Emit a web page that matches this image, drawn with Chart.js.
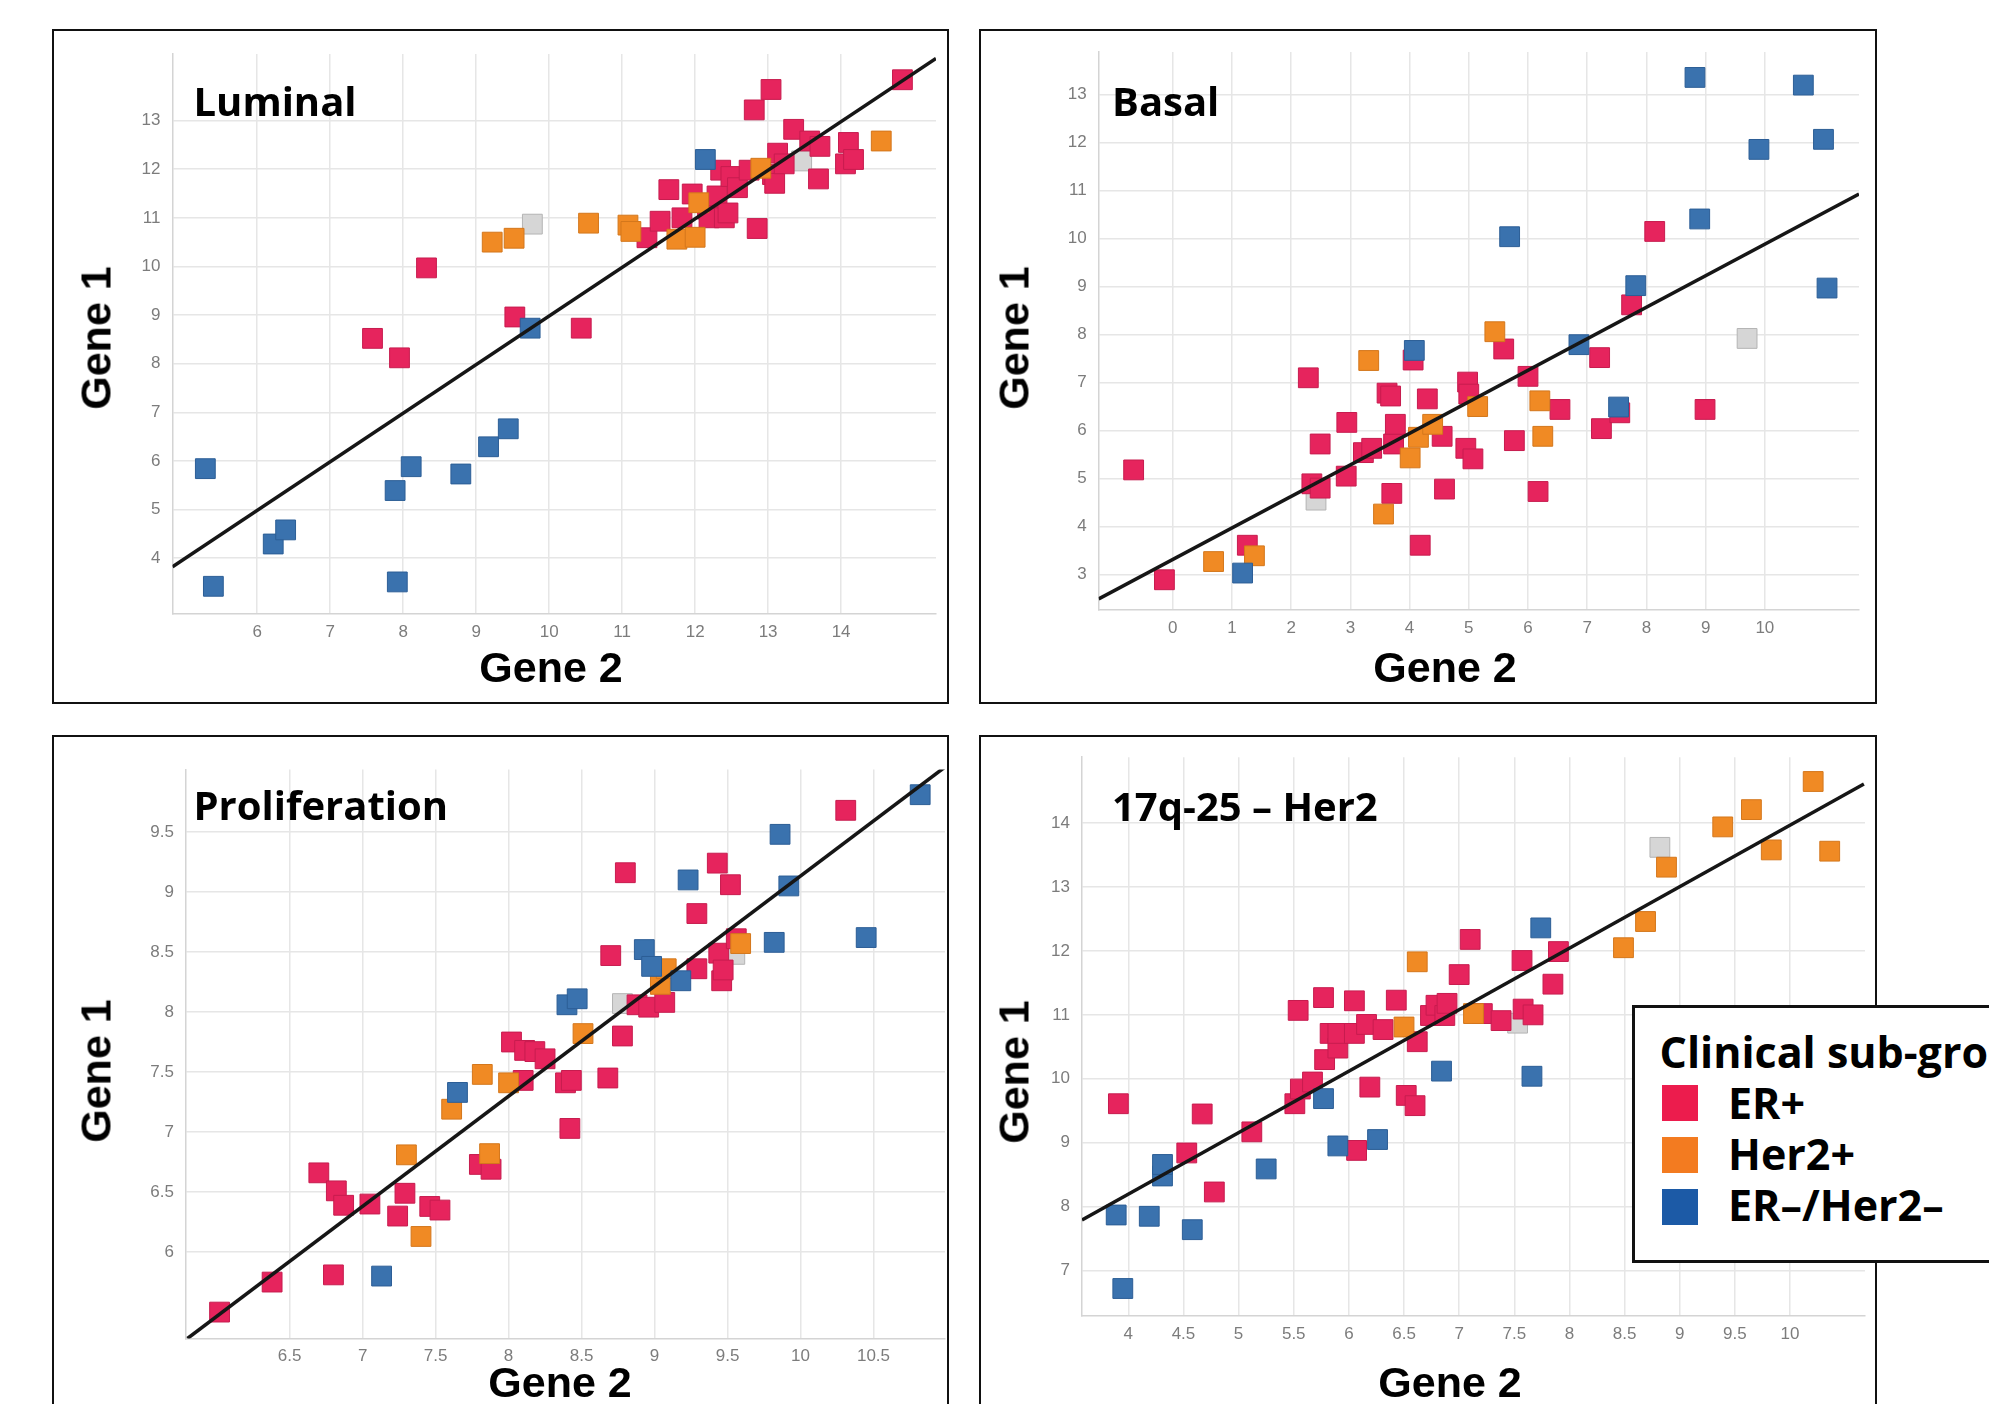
<!DOCTYPE html>
<html>
<head>
<meta charset="utf-8">
<title>Gene 1 vs Gene 2 – four signatures</title>
<script src="https://cdn.jsdelivr.net/npm/chart.js@4.4.1/dist/chart.umd.min.js"></script>
<style>
  html, body { margin: 0; padding: 0; background: #fff; }
  body { position: relative; width: 1989px; height: 1404px; overflow: hidden; }
  .frame { position: absolute; border: 2px solid #111; box-sizing: border-box; }
  canvas { position: absolute; z-index: 1; }
  .txt { position: absolute; white-space: nowrap; line-height: 1; color: #000; z-index: 2; }
  .panel-title { font-family: "Open Sans", "DejaVu Sans", sans-serif; font-weight: 700; font-size: 40px; }
  .axis-title { font-family: "Liberation Sans", Arial, sans-serif; font-weight: 700; font-size: 43px; }
  .legend-box { position: absolute; left: 1632px; top: 1005px; width: 420px; height: 258px;
                border: 3px solid #111; box-sizing: border-box; background: #fff; z-index: 3; }
  .legend-txt { font-family: "Open Sans", "DejaVu Sans", sans-serif; font-weight: 700; font-size: 43px; z-index: 4; }
  .swatch { position: absolute; width: 36px; height: 36px; z-index: 4; }
</style>
</head>
<body>
<script>
// =============================================
// Data (Gene 2 on x, Gene 1 on y)
// =============================================

// --- Luminal ---
const lumXRange = [4.84, 15.3];
const lumYRange = [2.85, 14.37];
const lumXTicks = [6, 7, 8, 9, 10, 11, 12, 13, 14];
const lumYTicks = [4, 5, 6, 7, 8, 9, 10, 11, 12, 13];
const lumEr = [[7.58, 8.52], [7.95, 8.12], [8.32, 9.97], [9.53, 8.96], [10.44, 8.73], [11.34, 10.59],
  [11.52, 10.93], [11.64, 11.58], [11.82, 11.0], [11.96, 11.49], [12.17, 11.18], [12.19, 11.0],
  [12.30, 11.45], [12.35, 11.98], [12.40, 11.0], [12.45, 11.1], [12.49, 11.85], [12.58, 11.62],
  [12.74, 11.98], [12.81, 13.22], [12.85, 10.78], [13.04, 13.64], [13.06, 11.89], [13.09, 11.71],
  [13.13, 12.33], [13.22, 12.11], [13.35, 12.82], [13.57, 12.58], [13.69, 11.80], [13.71, 12.47],
  [14.06, 12.11], [14.10, 12.55], [14.17, 12.2], [14.84, 13.84]];
const lumHer = [[9.22, 10.50], [9.52, 10.58], [10.54, 10.89], [11.08, 10.85], [11.12, 10.72],
  [11.75, 10.56], [12.0, 10.6], [12.05, 11.31], [12.90, 12.02], [14.55, 12.58]];
const lumTn = [[5.29, 5.84], [5.40, 3.42], [6.22, 4.29], [6.39, 4.58], [7.89, 5.39], [7.92, 3.51],
  [8.11, 5.88], [8.79, 5.73], [9.17, 6.29], [9.44, 6.66], [9.74, 8.73], [12.14, 12.20]];
const lumNa = [[9.77, 10.87], [13.46, 12.17]];
const lumFitX = [4.84, 15.3];
const lumFitY = [3.82, 14.28];

// --- Basal ---
const basXRange = [-1.25, 11.59];
const basYRange = [2.26, 13.89];
const basXTicks = [0, 1, 2, 3, 4, 5, 6, 7, 8, 9, 10];
const basYTicks = [3, 4, 5, 6, 7, 8, 9, 10, 11, 12, 13];
const basEr = [[-0.66, 5.18], [-0.14, 2.89], [1.26, 3.61], [2.29, 7.10], [2.35, 4.89], [2.49, 4.80],
  [2.49, 5.72], [2.93, 5.05], [2.94, 6.17], [3.22, 5.54], [3.36, 5.63], [3.62, 6.78], [3.68, 6.72],
  [3.70, 4.69], [3.73, 5.72], [3.76, 6.13], [4.06, 7.47], [4.18, 3.61], [4.30, 6.66], [4.55, 5.88],
  [4.59, 4.78], [4.95, 5.63], [4.98, 7.01], [5.0, 6.76], [5.07, 5.41], [5.59, 7.70], [5.77, 5.79],
  [6.0, 7.13], [6.17, 4.73], [6.54, 6.44], [7.21, 7.52], [7.24, 6.04], [7.55, 6.37], [7.75, 8.62],
  [8.14, 10.15], [8.99, 6.44]];
const basHer = [[0.69, 3.27], [1.38, 3.39], [3.31, 7.46], [3.56, 4.26], [4.01, 5.43], [4.15, 5.86],
  [4.39, 6.13], [5.15, 6.50], [5.44, 8.06], [6.20, 6.62], [6.25, 5.88]];
const basTn = [[1.18, 3.03], [4.08, 7.67], [5.69, 10.04], [6.86, 7.79], [7.53, 6.49], [7.82, 9.02],
  [8.82, 13.36], [8.90, 10.41], [9.90, 11.86], [10.65, 13.20], [10.99, 12.07], [11.05, 8.97]];
const basNa = [[2.42, 4.55], [9.70, 7.92]];
const basFitX = [-1.25, 11.59];
const basFitY = [2.49, 10.93];

// --- Proliferation ---
const proXRange = [5.79, 10.99];
const proYRange = [5.28, 10.02];
const proXTicks = [6.5, 7, 7.5, 8, 8.5, 9, 9.5, 10, 10.5];
const proYTicks = [6, 6.5, 7, 7.5, 8, 8.5, 9, 9.5];
const proEr = [[6.02, 5.50], [6.38, 5.75], [6.70, 6.66], [6.80, 5.81], [6.82, 6.51], [6.87, 6.39],
  [7.05, 6.40], [7.24, 6.30], [7.29, 6.49], [7.46, 6.38], [7.53, 6.35], [7.80, 6.73], [7.88, 6.69],
  [8.02, 7.75], [8.10, 7.43], [8.11, 7.68], [8.18, 7.67], [8.25, 7.61], [8.39, 7.41], [8.42, 7.03],
  [8.43, 7.43], [8.68, 7.45], [8.70, 8.47], [8.78, 7.80], [8.80, 9.16], [8.88, 8.06], [8.96, 8.04],
  [9.07, 8.08], [9.29, 8.36], [9.29, 8.82], [9.43, 9.24], [9.44, 8.49], [9.46, 8.26], [9.47, 8.35],
  [9.52, 9.06], [9.56, 8.61], [10.31, 9.68]];
const proHer = [[7.30, 6.81], [7.40, 6.13], [7.61, 7.19], [7.82, 7.48], [7.87, 6.82], [8.0, 7.41],
  [8.51, 7.82], [9.04, 8.23], [9.08, 8.36], [9.59, 8.57]];
const proTn = [[7.13, 5.80], [7.65, 7.33], [8.40, 8.06], [8.47, 8.11], [8.93, 8.52], [8.98, 8.38],
  [9.18, 8.26], [9.23, 9.10], [9.82, 8.58], [9.86, 9.48], [9.92, 9.05], [10.45, 8.62], [10.82, 9.81]];
const proNa = [[8.78, 8.07], [9.55, 8.48]];
const proFitX = [5.80, 11.0];
const proFitY = [5.28, 10.05];

// --- 17q-25 – Her2 ---
const herXRange = [3.58, 10.68];
const herYRange = [6.29, 15.03];
const herXTicks = [4, 4.5, 5, 5.5, 6, 6.5, 7, 7.5, 8, 8.5, 9, 9.5, 10];
const herYTicks = [7, 8, 9, 10, 11, 12, 13, 14];
const herEr = [[3.91, 9.61], [4.53, 8.84], [4.67, 9.45], [4.78, 8.23], [5.12, 9.17], [5.51, 9.61],
  [5.54, 11.07], [5.56, 9.84], [5.67, 9.95], [5.77, 11.27], [5.78, 10.30], [5.83, 10.71], [5.90, 10.48],
  [5.90, 10.71], [6.05, 11.22], [6.05, 10.71], [6.07, 8.88], [6.16, 10.85], [6.19, 9.87], [6.31, 10.77],
  [6.43, 11.23], [6.52, 9.74], [6.60, 9.58], [6.62, 10.58], [6.74, 10.99], [6.79, 11.15], [6.87, 10.99],
  [6.89, 11.18], [7.0, 11.63], [7.10, 12.18], [7.21, 11.02], [7.38, 10.91], [7.57, 11.85], [7.58, 11.09],
  [7.67, 11.0], [7.85, 11.48], [7.90, 11.99]];
const herHer = [[6.50, 10.81], [6.62, 11.83], [7.13, 11.02], [8.49, 12.05], [8.69, 12.46], [8.88, 13.31],
  [9.39, 13.94], [9.65, 14.21], [9.83, 13.58], [10.21, 14.65], [10.36, 13.56]];
const herTn = [[3.89, 7.87], [3.95, 6.72], [4.19, 7.85], [4.31, 8.48], [4.31, 8.66], [4.58, 7.64],
  [5.25, 8.59], [5.77, 9.69], [5.90, 8.95], [6.26, 9.05], [6.84, 10.12], [7.66, 10.04], [7.74, 12.36]];
const herNa = [[7.53, 10.87], [8.82, 13.62]];
const herFitX = [3.58, 10.67];
const herFitY = [7.79, 14.61];

// legend
const legendTitle = 'Clinical sub-groups';
const legendNames = ['ER+', 'Her2+', 'ER–/Her2–'];

// =============================================
// Styles
// =============================================
// order of groups everywhere: ER+, Her2+, ER-/Her2-, not assigned
const groupFill = ['#e6245d', '#f08a24', '#3a72ae', '#d6d6d6'];
const groupEdge = ['#c71c4f', '#d4771c', '#2c5e96', '#b4b4b4'];
const groupOrder = [4, 3, 2, 5];   // higher order = drawn first (underneath)
const legendFill = ['#ec1c4d', '#f37b20', '#1c5aa6'];

// page positions of each panel (frame box, plot area, texts)
const panels = [
  { name: 'Luminal', groups: [lumEr, lumHer, lumTn, lumNa], fitX: lumFitX, fitY: lumFitY,
    xRange: lumXRange, yRange: lumYRange, xTicks: lumXTicks, yTicks: lumYTicks,
    frame: { l: 52, t: 29, r: 949, b: 704 }, area: { l: 172.5, t: 54, r: 936, b: 614 },
    titleAt: [193.5, 117], xTitleAt: [551, 682], yTitleAt: [96, 338] },
  { name: 'Basal', groups: [basEr, basHer, basTn, basNa], fitX: basFitX, fitY: basFitY,
    xRange: basXRange, yRange: basYRange, xTicks: basXTicks, yTicks: basYTicks,
    frame: { l: 979, t: 29, r: 1877, b: 704 }, area: { l: 1098.7, t: 52, r: 1859, b: 610 },
    titleAt: [1112, 117], xTitleAt: [1445, 682], yTitleAt: [1013.5, 338] },
  { name: 'Proliferation', groups: [proEr, proHer, proTn, proNa], fitX: proFitX, fitY: proFitY,
    xRange: proXRange, yRange: proYRange, xTicks: proXTicks, yTicks: proYTicks,
    frame: { l: 52, t: 735, r: 949, b: 1420 }, area: { l: 186, t: 769.5, r: 945, b: 1338.5 },
    titleAt: [193.5, 821], xTitleAt: [560, 1397], yTitleAt: [96, 1071] },
  { name: '17q-25 – Her2', groups: [herEr, herHer, herTn, herNa], fitX: herFitX, fitY: herFitY,
    xRange: herXRange, yRange: herYRange, xTicks: herXTicks, yTicks: herYTicks,
    frame: { l: 979, t: 735, r: 1877, b: 1420 }, area: { l: 1082, t: 746, r: 1865, b: 1316 },
    titleAt: [1112, 822], xTitleAt: [1450, 1397], yTitleAt: [1013.5, 1072] }
];

// baseline offset for line-height:1 boxes (fraction of font size)
const OPEN_SANS_BASE = 0.888;
const LIB_SANS_BASE = 0.8465;

function addText(cls, text, left, top, transform) {
  const el = document.createElement('div');
  el.className = 'txt ' + cls;
  el.textContent = text;
  el.style.left = left + 'px';
  el.style.top = top + 'px';
  if (transform) el.style.transform = transform;
  document.body.appendChild(el);
  return el;
}

function axisOptions(range, ticks, which, size) {
  return {
    type: 'linear',
    min: range[0],
    max: range[1],
    afterBuildTicks: axis => { axis.ticks = ticks.map(v => ({ value: v })); },
    afterFit: axis => {
      if (which === 'x') axis.height = size;
      else axis.width = size;
    },
    grid: { color: '#e6e6e6', lineWidth: 1.5, drawTicks: false },
    border: { color: '#d4d4d4', width: 1.5 },
    ticks: {
      autoSkip: false,
      maxRotation: 0,
      padding: which === 'x' ? 8 : 12,
      color: '#7c7c7c',
      font: { family: 'Liberation Sans', size: 17 },
      callback: v => String(v)
    }
  };
}

// =============================================
// Build the four panels
// =============================================
panels.forEach(p => {
  const frame = document.createElement('div');
  frame.className = 'frame';
  frame.style.left = p.frame.l + 'px';
  frame.style.top = p.frame.t + 'px';
  frame.style.width = (p.frame.r - p.frame.l) + 'px';
  frame.style.height = (p.frame.b - p.frame.t) + 'px';
  document.body.appendChild(frame);

  const canvas = document.createElement('canvas');
  canvas.width = p.frame.r - p.frame.l;
  canvas.height = p.frame.b - p.frame.t;
  canvas.style.left = p.frame.l + 'px';
  canvas.style.top = p.frame.t + 'px';
  document.body.appendChild(canvas);

  const pointSets = p.groups.map((pts, i) => ({
    data: pts.map(([x, y]) => ({ x, y })),
    backgroundColor: groupFill[i],
    borderColor: groupEdge[i],
    borderWidth: 1,
    pointStyle: 'rect',
    pointRadius: 14,
    pointHoverRadius: 14,
    order: groupOrder[i]
  }));

  const fitLine = {
    data: p.fitX.map((x, i) => ({ x, y: p.fitY[i] })),
    showLine: true,
    borderColor: '#161616',
    borderWidth: 3.5,
    pointRadius: 0,
    fill: false,
    order: 1
  };

  new Chart(canvas.getContext('2d'), {
    type: 'scatter',
    data: { datasets: [...pointSets, fitLine] },
    options: {
      responsive: false,
      animation: false,
      events: [],
      layout: {
        autoPadding: false,
        padding: { left: 0, bottom: 0, top: p.area.t - p.frame.t, right: p.frame.r - p.area.r }
      },
      plugins: { legend: { display: false }, tooltip: { enabled: false } },
      scales: {
        x: axisOptions(p.xRange, p.xTicks, 'x', p.frame.b - p.area.b),
        y: axisOptions(p.yRange, p.yTicks, 'y', p.area.l - p.frame.l)
      }
    }
  });

  // panel name inside the plot, axis titles outside
  addText('panel-title', p.name, p.titleAt[0], p.titleAt[1] - OPEN_SANS_BASE * 40);
  addText('axis-title', 'Gene 2', p.xTitleAt[0], p.xTitleAt[1] - LIB_SANS_BASE * 43, 'translateX(-50%)');
  addText('axis-title', 'Gene 1', p.yTitleAt[0], p.yTitleAt[1], 'translate(-50%, -50%) rotate(-90deg)');
});

// =============================================
// Legend (sits over the lower-right panel)
// =============================================
const box = document.createElement('div');
box.className = 'legend-box';
document.body.appendChild(box);

addText('legend-txt', legendTitle, 1659.5, 1068 - OPEN_SANS_BASE * 43);
legendNames.forEach((name, i) => {
  const sw = document.createElement('div');
  sw.className = 'swatch';
  sw.style.left = '1662px';
  sw.style.top = (1085 + i * 51.8) + 'px';
  sw.style.background = legendFill[i];
  document.body.appendChild(sw);
  addText('legend-txt', name, 1728, 1119.5 + i * 50.7 - OPEN_SANS_BASE * 43);
});
</script>
</body>
</html>
